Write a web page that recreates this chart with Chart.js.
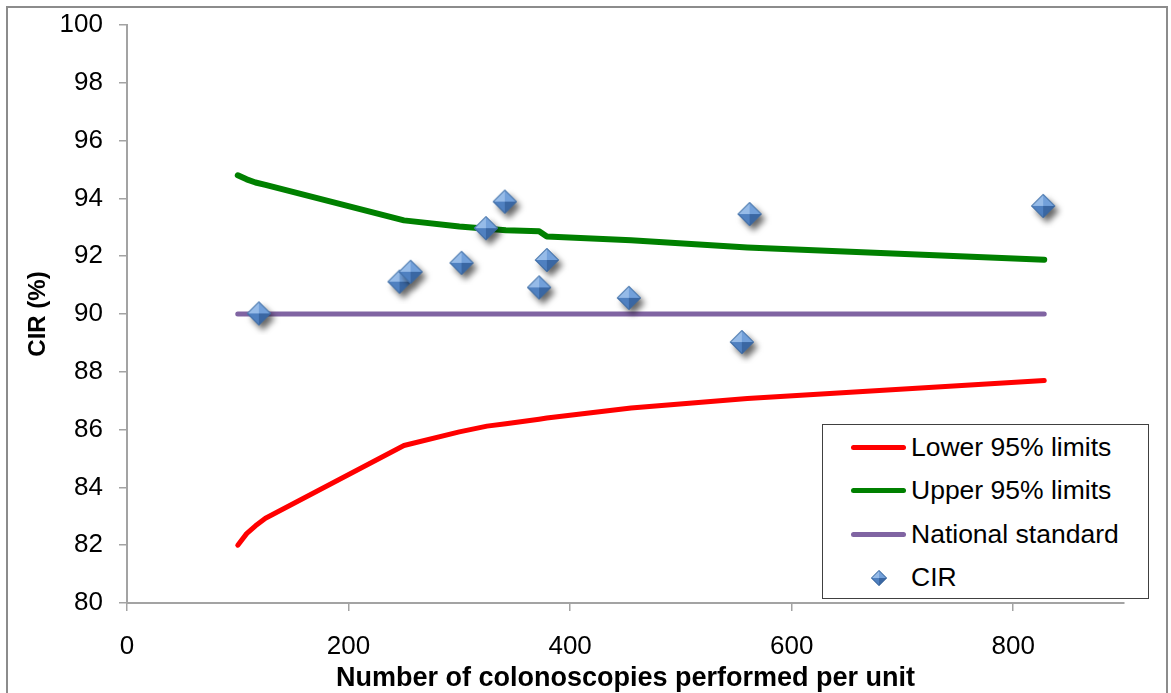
<!DOCTYPE html>
<html lang="en">
<head>
    <meta charset="UTF-8">
    <title>CIR by number of colonoscopies</title>
    <script src="https://cdn.jsdelivr.net/npm/chart.js"></script>
    <style>
        body {
            margin: 0;
            background: #fff;
            font-family: 'Liberation Sans', Arial, sans-serif;
        }
        #wrap {
            position: relative;
            width: 1171px;
            height: 693px;
            overflow: hidden;
        }
        #frame {
            position: absolute;
            left: 6px;
            top: 6px;
            width: 1158px;
            height: 720px;
            border: 2px solid #8c8c8c;
        }
        #cirChart {
            position: absolute;
            left: 0;
            top: 0;
        }
        #legend {
            position: absolute;
            left: 822px;
            top: 424px;
            width: 327px;
            height: 175px;
            box-sizing: border-box;
            border: 1.5px solid #404040;
            background: #fff;
            padding-top: 1px;
        }
        .item {
            display: flex;
            align-items: center;
            height: 43.3px;
            font-size: 26.5px;
            color: #000;
        }
        .swatch {
            width: 55px;
            height: 5px;
            border-radius: 3px;
            margin-left: 28px;
            margin-right: 5px;
        }
        .marker {
            width: 55px;
            margin-left: 28px;
            margin-right: 5px;
            display: flex;
            justify-content: center;
        }
    </style>
</head>
<body>
    <div id="wrap">
        <div id="frame"></div>
        <canvas id="cirChart" width="1171" height="693"></canvas>
        <div id="legend"></div>
    </div>

    <script>
        // limit curves
        const limitN = [100, 108, 116, 125, 250, 300, 325, 342, 372, 379, 455, 560, 828];
        const lowerLimit = [82.0, 82.4, 82.67, 82.93, 85.45, 85.92, 86.12, 86.2, 86.36, 86.4, 86.75, 87.08, 87.7];
        const upperLimit = [94.8, 94.66, 94.55, 94.47, 93.24, 93.03, 92.95, 92.9, 92.86, 92.68, 92.55, 92.3, 91.88];

        const standardN = [100, 828];
        const standardValue = [90, 90];

        // units
        const unitN = [119, 246, 256, 302, 324, 341, 372, 379, 453, 555, 562, 827];
        const unitCIR = [90.02, 91.12, 91.46, 91.77, 92.97, 93.89, 90.92, 91.87, 90.56, 89.03, 93.46, 93.74];

        const xTicks = [0, 200, 400, 600, 800];
        const yMin = 80, yMax = 100, yStep = 2;

        const pts = (xs, ys) => xs.map((x, i) => ({ x: x, y: ys[i] }));

        function diamondPath(g, cx, cy, r) {
            g.beginPath();
            g.moveTo(cx, cy - r);
            g.lineTo(cx + r, cy);
            g.lineTo(cx, cy + r);
            g.lineTo(cx - r, cy);
            g.closePath();
        }

        function makeDiamond(r, shadow) {
            const pad = shadow ? 10 : 1;
            const size = Math.round(2 * (r + pad));
            const c = document.createElement('canvas');
            c.width = size;
            c.height = size;
            const g = c.getContext('2d');
            const cx = size / 2, cy = size / 2;
            if (shadow) {
                g.save();
                g.shadowColor = 'rgba(0,0,0,0.6)';
                g.shadowBlur = 6;
                g.shadowOffsetX = 4;
                g.shadowOffsetY = 5;
                diamondPath(g, cx, cy, r);
                g.fillStyle = '#4f81bd';
                g.fill();
                g.restore();
            }
            const facets = [
                [cx, cy - r, cx - r, cy, '#96bbe8'],
                [cx + r, cy, cx, cy - r, '#72a0da'],
                [cx - r, cy, cx, cy + r, '#4f80c0'],
                [cx, cy + r, cx + r, cy, '#3a67a3']
            ];
            facets.forEach(f => {
                g.beginPath();
                g.moveTo(cx, cy);
                g.lineTo(f[0], f[1]);
                g.lineTo(f[2], f[3]);
                g.closePath();
                g.fillStyle = f[4];
                g.fill();
            });
            diamondPath(g, cx, cy, r - 0.5);
            g.strokeStyle = '#3a6699';
            g.lineWidth = 1;
            g.stroke();
            return c;
        }

        Chart.defaults.font.family = "'Liberation Sans', Arial, sans-serif";
        Chart.defaults.color = '#000';

        const axisGray = '#a3a3a3';

        const chart = new Chart(document.getElementById('cirChart'), {
            type: 'scatter',
            data: {
                datasets: [
                    {
                        label: 'Lower 95% limits',
                        data: pts(limitN, lowerLimit),
                        showLine: true,
                        borderColor: '#ff0000',
                        borderWidth: 5,
                        borderCapStyle: 'round',
                        borderJoinStyle: 'round',
                        pointRadius: 0,
                        order: 1
                    },
                    {
                        label: 'Upper 95% limits',
                        data: pts(limitN, upperLimit),
                        showLine: true,
                        borderColor: '#008000',
                        borderWidth: 6,
                        borderCapStyle: 'round',
                        borderJoinStyle: 'round',
                        pointRadius: 0,
                        order: 1
                    },
                    {
                        label: 'National standard',
                        data: pts(standardN, standardValue),
                        showLine: true,
                        borderColor: '#8064a2',
                        borderWidth: 5,
                        borderCapStyle: 'round',
                        pointRadius: 0,
                        order: 1
                    },
                    {
                        label: 'CIR',
                        data: pts(unitN, unitCIR),
                        pointStyle: makeDiamond(12, true),
                        pointRadius: 12,
                        backgroundColor: '#4f81bd',
                        order: 0
                    }
                ]
            },
            options: {
                responsive: false,
                animation: false,
                layout: { padding: { top: 25, right: 47, bottom: 0, left: 0 } },
                plugins: {
                    legend: { display: false },
                    tooltip: { enabled: false }
                },
                scales: {
                    x: {
                        type: 'linear',
                        min: 0,
                        max: 900,
                        afterBuildTicks: s => { s.ticks = xTicks.map(v => ({ value: v })); },
                        ticks: { padding: 20, font: { size: 26 } },
                        grid: { drawOnChartArea: false, tickLength: 8, color: axisGray, lineWidth: 1.5 },
                        border: { color: axisGray, width: 2 },
                        title: {
                            display: true,
                            text: 'Number of colonoscopies performed per unit',
                            font: { size: 27, weight: 'bold' },
                            padding: { top: 0, bottom: -2 }
                        },
                        afterFit: s => { s.height = 90; s.paddingLeft = 0; s.paddingRight = 0; }
                    },
                    y: {
                        min: yMin,
                        max: yMax,
                        ticks: { stepSize: yStep, padding: 16, font: { size: 26 } },
                        grid: { drawOnChartArea: false, tickLength: 8, color: axisGray, lineWidth: 1.5 },
                        border: { color: axisGray, width: 2 },
                        title: {
                            display: true,
                            text: 'CIR (%)',
                            font: { size: 24, weight: 'bold' },
                            padding: { top: 24, bottom: 0 }
                        },
                        // fixed width, and drop the label overflow padding so the plot top sits at 25px
                        afterFit: s => { s.width = 127; s.paddingTop = 0; s.paddingBottom = 0; }
                    }
                }
            }
        });

        // legend box inside the plot, built from the datasets
        const legend = document.getElementById('legend');
        chart.data.datasets.forEach(ds => {
            const row = document.createElement('div');
            row.className = 'item';
            if (ds.showLine) {
                const sw = document.createElement('div');
                sw.className = 'swatch';
                sw.style.background = ds.borderColor;
                row.appendChild(sw);
            } else {
                const mk = document.createElement('div');
                mk.className = 'marker';
                mk.appendChild(makeDiamond(8, false));
                row.appendChild(mk);
            }
            const label = document.createElement('span');
            label.textContent = ds.label;
            row.appendChild(label);
            legend.appendChild(row);
        });
    </script>
</body>
</html>
